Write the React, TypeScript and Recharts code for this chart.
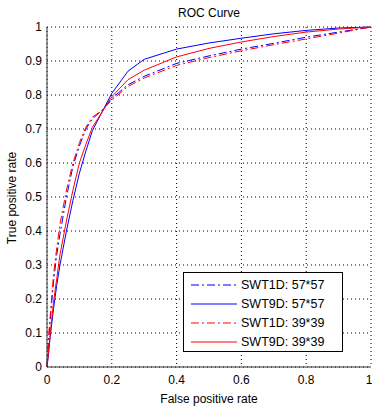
import React from "react";
import { LineChart, Line, XAxis, YAxis, CartesianGrid } from "recharts";

const fpr = [0, 0.005, 0.01, 0.02, 0.03, 0.04, 0.06, 0.08, 0.1, 0.12, 0.14, 0.17, 0.2, 0.25, 0.3, 0.4, 0.5, 0.6, 0.7, 0.8, 0.9, 1];
const swt1d57 = [0, 0.08, 0.14, 0.25, 0.33, 0.39, 0.5, 0.59, 0.65, 0.7, 0.73, 0.755, 0.79, 0.83, 0.855, 0.893, 0.915, 0.935, 0.952, 0.97, 0.985, 1];
const swt9d57 = [0, 0.04, 0.09, 0.17, 0.24, 0.3, 0.4, 0.49, 0.57, 0.635, 0.695, 0.75, 0.805, 0.87, 0.905, 0.935, 0.953, 0.967, 0.98, 0.99, 0.997, 1];
const swt1d39 = [0, 0.09, 0.15, 0.27, 0.35, 0.42, 0.52, 0.6, 0.66, 0.705, 0.735, 0.755, 0.785, 0.825, 0.85, 0.887, 0.91, 0.93, 0.948, 0.965, 0.982, 1];
const swt9d39 = [0, 0.05, 0.1, 0.19, 0.26, 0.33, 0.43, 0.52, 0.6, 0.655, 0.705, 0.75, 0.795, 0.845, 0.873, 0.912, 0.937, 0.956, 0.972, 0.985, 0.994, 1];

const xTicks = [0, 0.2, 0.4, 0.6, 0.8, 1];
const yTicks = [0, 0.1, 0.2, 0.3, 0.4, 0.5, 0.6, 0.7, 0.8, 0.9, 1];

const seriesNames = ["SWT1D: 57*57", "SWT9D: 57*57", "SWT1D: 39*39", "SWT9D: 39*39"];
const seriesColors = ["#0000ff", "#0000ff", "#ff0000", "#ff0000"];
const seriesDash = ["8 3 2 3", "", "8 3 2 3", ""];
const seriesKeys = ["a", "b", "c", "d"];

const data = fpr.map((x, i) => ({ x, a: swt1d57[i], b: swt9d57[i], c: swt1d39[i], d: swt9d39[i] }));

const FONT = "'Liberation Sans', Arial, sans-serif";

const fmt = (v: number) => (v === 0 || v === 1 ? String(v) : String(Math.round(v * 10) / 10));

const XTick = (props: any) => {
  const { x, y, payload } = props;
  const v = payload.value as number;
  return (
    <text x={v === 1 ? x - 2 : x} y={y} dy="0.71em" textAnchor="middle" fontSize={12} fontFamily={FONT} fill="#000">
      {fmt(v)}
    </text>
  );
};

const LegendBox = () => (
  <div
    style={{
      position: "absolute",
      left: 183,
      top: 272,
      width: 158,
      height: 78,
      border: "1px solid #000",
      background: "#fff",
      fontFamily: FONT,
      fontSize: 12.5,
      color: "#000",
      boxSizing: "content-box",
    }}
  >
    {seriesNames.map((n, i) => (
      <div key={n} style={{ display: "flex", alignItems: "center", height: 19, marginTop: i === 0 ? 2 : 0 }}>
        <svg width={54} height={10} style={{ marginLeft: 7, flex: "none" }}>
          <line x1={0} y1={5} x2={46} y2={5} stroke={seriesColors[i]} strokeWidth={1} strokeDasharray={seriesDash[i] || undefined} />
        </svg>
        <span style={{ marginLeft: -4, whiteSpace: "nowrap" }}>{n}</span>
      </div>
    ))}
  </div>
);

export default function App() {
  return (
    <div style={{ position: "absolute", left: 0, top: 0, width: 372, height: 406, overflow: "hidden", fontFamily: FONT, background: "#fff" }}>
      <LineChart width={372} height={406} data={data} margin={{ top: 27, right: 1, bottom: 0, left: 8 }}>
        <CartesianGrid stroke="#000" strokeDasharray="1 3" vertical horizontal />
        <XAxis
          dataKey="x"
          type="number"
          domain={[0, 1]}
          ticks={xTicks}
          interval={0}
          tickFormatter={fmt}
          height={39}
          tickSize={0}
          tickMargin={8}
          axisLine={{ stroke: "#333" }}
          tick={<XTick />}
        />
        <YAxis
          type="number"
          domain={[0, 1]}
          ticks={yTicks}
          interval={0}
          tickFormatter={fmt}
          width={39}
          tickSize={0}
          tickMargin={5}
          axisLine={{ stroke: "#333" }}
          tick={{ fill: "#000", fontSize: 12, fontFamily: FONT }}
        />
        {seriesKeys.map((k, i) => (
          <Line
            key={k}
            type="linear"
            dataKey={k}
            name={seriesNames[i]}
            stroke={seriesColors[i]}
            strokeWidth={1}
            strokeDasharray={seriesDash[i] || undefined}
            dot={false}
            isAnimationActive={false}
          />
        ))}
        <text x={209} y={13} textAnchor="middle" dominantBaseline="central" fontSize={12} fontFamily={FONT} fill="#000">
          ROC Curve
        </text>
        <text x={209} y={399} textAnchor="middle" dominantBaseline="central" fontSize={12} fontFamily={FONT} fill="#000">
          False positive rate
        </text>
        <text
          x={12}
          y={198}
          textAnchor="middle"
          dominantBaseline="central"
          fontSize={12}
          fontFamily={FONT}
          fill="#000"
          transform="rotate(-90 12 198)"
        >
          True positive rate
        </text>
      </LineChart>
      <LegendBox />
    </div>
  );
}
